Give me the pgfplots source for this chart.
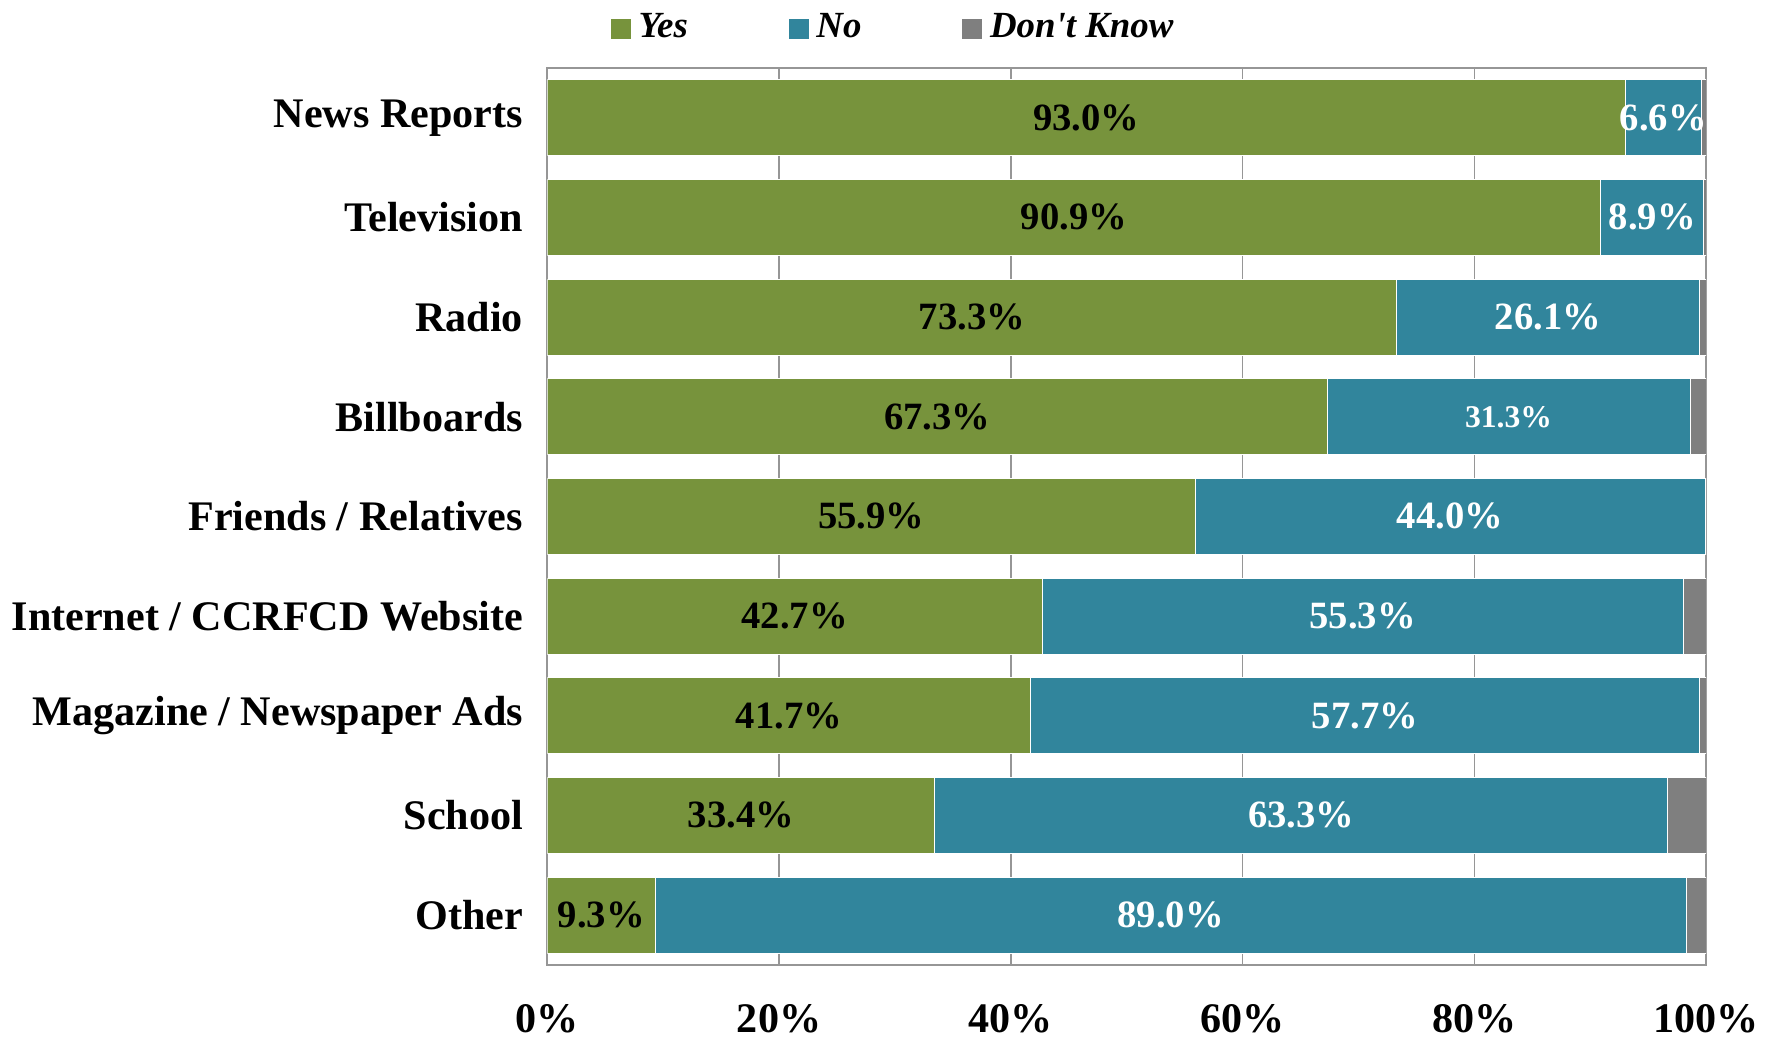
\documentclass[border=0pt]{standalone}
\usepackage{pgfplots}
\pgfplotsset{compat=1.18}
\usepackage{fontspec}
\setmainfont{Liberation Serif}
\definecolor{yesc}{RGB}{119,147,60}
\definecolor{noc}{RGB}{49,133,156}
\definecolor{dkc}{RGB}{127,127,127}
\definecolor{framec}{RGB}{150,150,150}
\begin{document}
\begin{tikzpicture}
\begin{axis}[
  name=ax,
  scale only axis,
  width=11.6cm, height=8.98cm,
  xbar stacked,
  bar width=7.6mm,
  xmin=0, xmax=100,
  ymin=-0.5, ymax=8.5,
  xtick={0,20,40,60,80,100},
  xticklabels={0\%,20\%,40\%,60\%,80\%,100\%},
  ytick={0,...,8},
  yticklabels={Other,School,Magazine / Newspaper Ads,Internet / CCRFCD Website,Friends / Relatives,Billboards,Radio,Television,News Reports},
  major tick length=0pt,
  tick label style={font=\fontsize{12}{14}\selectfont\bfseries},
  xticklabel style={inner ysep=0pt, yshift=-3.9mm},
  yticklabel style={xshift=-1.2mm},
  xmajorgrids,
  grid style={draw=framec, line width=0.4pt},
  axis line style={draw=framec, line width=0.6pt},
  legend columns=3,
  legend style={draw=none, fill=none, at={(0.0534,1.044)}, anchor=west, inner sep=0pt,
    font=\fontsize{10.5}{12}\selectfont\bfseries\itshape,
    /tikz/every even column/.append style={column sep=9.3mm}},
  legend image code/.code={\fill[#1] (0mm,-1.05mm) rectangle (2.1mm,1.05mm);},
  every axis plot/.append style={draw=white, line width=0.2pt},
  every node near coord/.append style={anchor=center,
    font=\fontsize{11}{13}\selectfont\bfseries},
]
% Yes
\addplot[fill=yesc, point meta=explicit symbolic, nodes near coords]
  coordinates {(9.3,0) [9.3\%] (33.4,1) [33.4\%] (41.7,2) [41.7\%] (42.7,3) [42.7\%]
    (55.9,4) [55.9\%] (67.3,5) [67.3\%] (73.3,6) [73.3\%] (90.9,7) [90.9\%] (93.0,8) [93.0\%]};
% No
\addplot[fill=noc, point meta=explicit symbolic, nodes near coords,
  every node near coord/.append style={text=white}]
  coordinates {(89.0,0) [89.0\%] (63.3,1) [63.3\%] (57.7,2) [57.7\%] (55.3,3) [55.3\%]
    (44.0,4) [44.0\%] (31.3,5) [{\fontsize{9}{11}\selectfont 31.3\%}] (26.1,6) [26.1\%]
    (8.9,7) [8.9\%] (6.6,8) [6.6\%]};
% Don't Know
\addplot[fill=dkc]
  coordinates {(1.7,0) (3.3,1) (0.6,2) (2.0,3) (0.1,4) (1.4,5) (0.6,6) (0.2,7) (0.4,8)};
\legend{Yes,No,Don\textquotesingle t Know}
\end{axis}
\path ([shift={(-5.46cm,-0.77cm)}]ax.south west) rectangle ([shift={(0.73cm,0.68cm)}]ax.north east);
\end{tikzpicture}
\end{document}
